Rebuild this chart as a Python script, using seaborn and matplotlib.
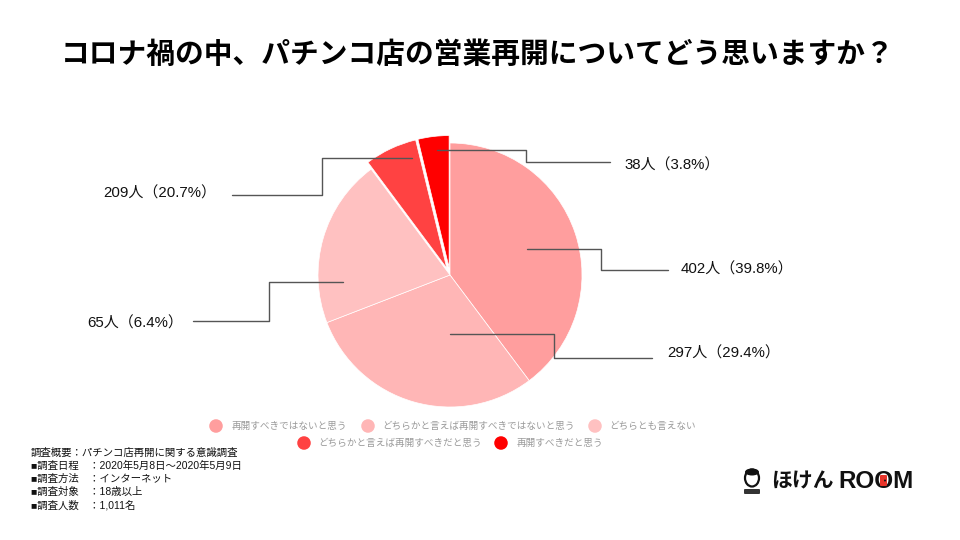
import pandas as pd
import matplotlib
matplotlib.use("Agg")
import matplotlib.pyplot as plt
from matplotlib.patches import Circle, Ellipse, FancyBboxPatch
import seaborn as sns

sns.set_theme(style="white")
FONTS = ["Liberation Sans", "Noto Sans CJK JP", "DejaVu Sans"]
plt.rcParams["font.family"] = FONTS

# data
answers = ["再開すべきではないと思う", "どちらかと言えば再開すべきではないと思う", "どちらとも言えない",
           "どちらかと言えば再開すべきだと思う", "再開すべきだと思う"]
shares = [39.8, 29.4, 20.7, 6.4, 3.8]
slice_colors = ["#ff9e9e", "#ffb6b6", "#ffc1c1", "#ff4242", "#ff0000"]
explode = [0, 0, 0, 0.05, 0.05]
value_labels = ["402人（39.8%）", "297人（29.4%）", "65人（6.4%）", "209人（20.7%）", "38人（3.8%）"]
title = "コロナ禍の中、パチンコ店の営業再開についてどう思いますか？"
survey_notes = ["調査概要：パチンコ店再開に関する意識調査",
                "■調査日程　：2020年5月8日～2020年5月9日",
                "■調査方法　：インターネット",
                "■調査対象　：18歳以上",
                "■調査人数　：1,011名"]

# layout, in pixels of the 960x540 picture
leaders = [[(527, 249), (601, 249), (601, 270), (668, 270)],
           [(450, 334), (554, 334), (554, 358), (652, 358)],
           [(343, 282), (269, 282), (269, 321), (193, 321)],
           [(412, 158), (322, 158), (322, 195), (232, 195)],
           [(437, 150), (526, 150), (526, 162), (610, 162)]]
label_pos = [(681, 268), (667, 352), (87, 322), (103, 192), (624, 164)]
legend_dot_x = [216, 368, 595, 304, 501]
legend_text_x = [232, 382, 609, 318, 517]
legend_y = [426, 426, 426, 443, 443]
notes_y = [453, 466, 479, 492, 505]

fig = plt.figure(figsize=(9.6, 5.4), dpi=100, facecolor="white")

# pie axes: centre (450, 275), radius 132 px
pie_ax = fig.add_axes([(450 - 150) / 960, 1 - (275 + 150) / 540, 300 / 960, 300 / 540])
pie_ax.pie(shares, colors=slice_colors, explode=explode, startangle=90, counterclock=False,
           radius=132 / 150, wedgeprops={"edgecolor": "white", "linewidth": 0.5})
pie_ax.set_xlim(-1, 1)
pie_ax.set_ylim(-1, 1)
pie_ax.axis("off")

# overlay for everything else
ax = fig.add_axes([0, 0, 1, 1])
ax.set_xlim(0, 960)
ax.set_ylim(540, 0)
ax.axis("off")
ax.patch.set_alpha(0)

ax.text(478, 54, title, ha="center", va="center", fontsize=20.7, fontweight="bold", color="black",
        family=["Noto Sans CJK JP", "DejaVu Sans"])

for points, (x, y), text in zip(leaders, label_pos, value_labels):
    ax.plot([p[0] for p in points], [p[1] for p in points], color="#555555", lw=1)
    ax.text(x, y + 1, text, ha="left", va="center", fontsize=10.8, color="#111111")

legend_df = pd.DataFrame({"x": legend_dot_x, "y": legend_y, "answer": answers})
sns.scatterplot(data=legend_df, x="x", y="y", hue="answer", hue_order=answers, palette=slice_colors,
                s=95, linewidth=0, legend=False, ax=ax)
ax.set_xlim(0, 960)
ax.set_ylim(540, 0)
for x, y, text in zip(legend_text_x, legend_y, answers):
    ax.text(x, y, text, ha="left", va="center", fontsize=6.9, color="#9a9a9a")

for y, note in zip(notes_y, survey_notes):
    ax.text(31, y, note, ha="left", va="center", fontsize=7.5, color="#111111")

# logo
ax.add_patch(Ellipse((752, 478), 14, 17, fc="white", ec="#111111", lw=1.6))
ax.add_patch(Ellipse((752, 472), 14, 7, fc="#111111", ec="none"))
ax.add_patch(FancyBboxPatch((745, 490), 14, 3, boxstyle="round,pad=1", fc="#333333", ec="none"))
ax.text(771, 481, "ほけん", ha="left", va="center", fontsize=15, fontweight="bold", color="#111111",
        family=["Noto Sans CJK JP"])
ax.text(838, 481, "ROOM", ha="left", va="center", fontsize=17.5, fontweight="bold", color="#111111",
        family=["Liberation Sans"])
ax.add_patch(FancyBboxPatch((881, 476), 5, 9, boxstyle="round,pad=1", fc="#e8342a", ec="none", zorder=5))
ax.add_patch(Circle((885, 480.5), 1, fc="#111111", ec="none", zorder=6))

fig.savefig("out.png", dpi=100, facecolor="white")
